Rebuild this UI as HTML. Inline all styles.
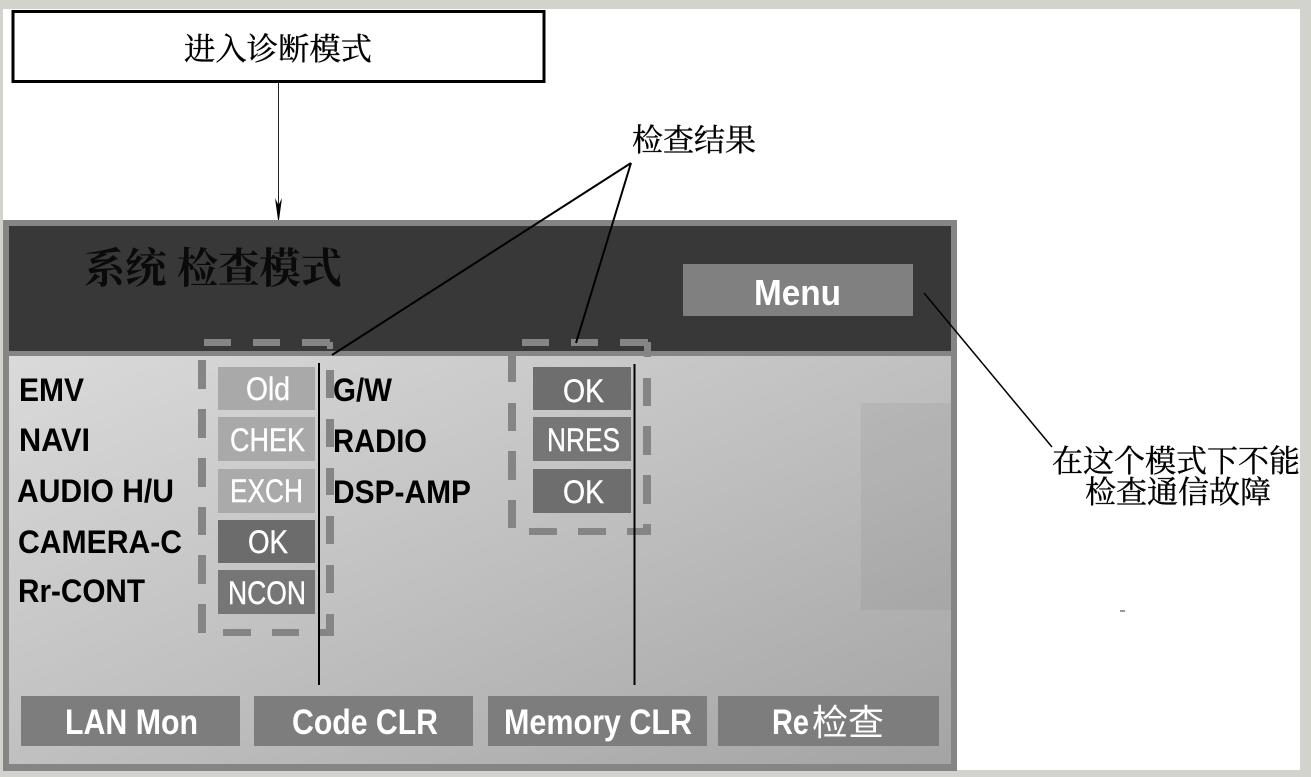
<!DOCTYPE html>
<html><head><meta charset="utf-8"><style>
html,body{margin:0;padding:0;background:#d2d3cd}
svg{display:block}
.e{font-family:"Liberation Sans",sans-serif;font-weight:bold}
.r{font-family:"Liberation Sans",sans-serif}
.c{font-family:"Liberation Serif","Noto Serif CJK SC",serif;stroke:#000;stroke-width:.35px}
</style></head><body>
<svg width="1311" height="777" viewBox="0 0 1311 777" xmlns="http://www.w3.org/2000/svg">
<defs><linearGradient id="g" x1="0" y1="0" x2="1" y2="1"><stop offset="0" stop-color="#dadada"/><stop offset=".5" stop-color="#c0c0c0"/><stop offset="1" stop-color="#a4a4a4"/></linearGradient></defs>
<rect width="1311" height="777" fill="#d2d3cd"/>
<rect x="3" y="9" width="1297" height="761" fill="#fff"/>
<rect x="3" y="220" width="954" height="551" fill="#858585"/>
<rect x="9" y="226" width="942" height="125" fill="#383838"/>
<rect x="9" y="356" width="942" height="408" fill="url(#g)"/>
<rect x="861" y="403" width="90" height="207" fill="#000" fill-opacity=".045"/>
<rect x="13" y="11.500" width="531" height="70" fill="#fff" stroke="#000" stroke-width="3"/>
<text class="c" x="184" y="60" font-size="31" textLength="188" lengthAdjust="spacingAndGlyphs">进入诊断模式</text>
<line x1="278.500" y1="83" x2="278.500" y2="205" stroke="#222" stroke-width="1"/>
<polygon points="275,198 278.500,205 282,198 279,220 278,220" fill="#000"/>
<text class="c" x="84" y="283" font-size="42" font-weight="bold" fill="#0a0a0a" textLength="258" lengthAdjust="spacingAndGlyphs" style="stroke:none">系统 检查模式</text>
<rect x="683" y="264" width="230" height="52" fill="#808080"/>
<text class="e" x="754" y="305" font-size="36" fill="#fff" textLength="87" lengthAdjust="spacingAndGlyphs">Menu</text>
<g fill="#858585">
<rect x="204" y="339" width="27" height="7"/><rect x="253" y="339" width="27" height="7"/><rect x="302" y="339" width="28" height="7"/><rect x="327" y="342" width="6" height="7"/>
<rect x="198" y="360" width="8" height="29"/><rect x="198" y="409" width="8" height="29"/><rect x="198" y="458" width="8" height="29"/><rect x="198" y="507" width="8" height="28"/><rect x="198" y="555" width="8" height="29"/><rect x="198" y="604" width="8" height="29"/>
<rect x="326" y="370" width="8" height="28"/><rect x="326" y="419" width="8" height="28"/><rect x="326" y="468" width="8" height="27"/><rect x="326" y="516" width="8" height="28"/><rect x="326" y="565" width="8" height="28"/><rect x="326" y="614" width="8" height="22"/>
<rect x="223" y="629" width="28" height="7"/><rect x="272" y="629" width="27" height="7"/><rect x="320" y="629" width="14" height="7"/>
<rect x="522" y="339" width="27" height="7"/><rect x="571" y="339" width="27" height="7"/><rect x="620" y="339" width="28" height="7"/><rect x="644" y="342" width="7" height="15"/>
<rect x="508" y="356" width="8" height="26"/><rect x="508" y="403" width="8" height="28"/><rect x="508" y="451" width="8" height="29"/><rect x="508" y="500" width="8" height="28"/>
<rect x="643" y="378" width="8" height="28"/><rect x="643" y="426" width="8" height="29"/><rect x="643" y="475" width="8" height="29"/><rect x="643" y="524" width="8" height="11"/>
<rect x="529" y="528" width="28" height="7"/><rect x="578" y="528" width="28" height="7"/><rect x="627" y="528" width="24" height="7"/>
</g>
<rect x="218" y="367" width="97" height="43" fill="#a9a9a9"/>
<rect x="218" y="417" width="97" height="44" fill="#a9a9a9"/>
<rect x="218" y="469" width="97" height="44" fill="#aaaaaa"/>
<rect x="218" y="520" width="97" height="43" fill="#6c6c6c"/>
<rect x="218" y="570" width="97" height="44" fill="#767676"/>
<rect x="533" y="367" width="98" height="43" fill="#6e6e6e"/>
<rect x="533" y="417" width="98" height="44" fill="#767676"/>
<rect x="533" y="469" width="98" height="44" fill="#6e6e6e"/>
<g class="r" font-size="32" fill="#fff" stroke="#fff" stroke-width=".4">
<text x="246" y="400" textLength="44" lengthAdjust="spacingAndGlyphs">Old</text>
<text x="230" y="451" textLength="75" lengthAdjust="spacingAndGlyphs">CHEK</text>
<text x="230" y="502" textLength="73" lengthAdjust="spacingAndGlyphs">EXCH</text>
<text x="248" y="553" textLength="40" lengthAdjust="spacingAndGlyphs">OK</text>
<text x="228" y="604" textLength="78" lengthAdjust="spacingAndGlyphs">NCON</text>
<text x="563" y="402" textLength="41" lengthAdjust="spacingAndGlyphs">OK</text>
<text x="547" y="451" textLength="73" lengthAdjust="spacingAndGlyphs">NRES</text>
<text x="563" y="503" textLength="41" lengthAdjust="spacingAndGlyphs">OK</text>
</g>
<g class="e" font-size="32" fill="#000">
<text x="19" y="401" textLength="65" lengthAdjust="spacingAndGlyphs">EMV</text>
<text x="19" y="451" textLength="71" lengthAdjust="spacingAndGlyphs">NAVI</text>
<text x="17" y="502" textLength="157" lengthAdjust="spacingAndGlyphs">AUDIO H/U</text>
<text x="18" y="553" textLength="164" lengthAdjust="spacingAndGlyphs">CAMERA-C</text>
<text x="18" y="602" textLength="127" lengthAdjust="spacingAndGlyphs">Rr-CONT</text>
<text x="333" y="401" textLength="59" lengthAdjust="spacingAndGlyphs">G/W</text>
<text x="333" y="452" textLength="94" lengthAdjust="spacingAndGlyphs">RADIO</text>
<text x="333" y="503" textLength="138" lengthAdjust="spacingAndGlyphs">DSP-AMP</text>
</g>
<line x1="319" y1="363" x2="319" y2="685" stroke="#000" stroke-width="2"/>
<line x1="634.500" y1="364" x2="634.500" y2="685" stroke="#000" stroke-width="2"/>
<g fill="#7d7d7d">
<rect x="21" y="696" width="219" height="50"/><rect x="254" y="696" width="219" height="50"/><rect x="488" y="696" width="219" height="50"/><rect x="718" y="696" width="221" height="50"/>
</g>
<g class="e" font-size="35" fill="#fff">
<text x="65" y="734" textLength="133" lengthAdjust="spacingAndGlyphs">LAN Mon</text>
<text x="292" y="734" textLength="146" lengthAdjust="spacingAndGlyphs">Code CLR</text>
<text x="504" y="734" textLength="188" lengthAdjust="spacingAndGlyphs">Memory CLR</text>
<text x="772" y="734" textLength="37" lengthAdjust="spacingAndGlyphs">Re</text>
</g>
<text x="812" y="735" font-size="36" fill="#fff" font-family="'Noto Sans CJK SC',sans-serif" textLength="72" lengthAdjust="spacingAndGlyphs">检查</text>
<text class="c" x="632" y="151" font-size="31" textLength="124" lengthAdjust="spacingAndGlyphs">检查结果</text>
<line x1="631" y1="163" x2="332" y2="355" stroke="#000" stroke-width="2"/>
<line x1="631" y1="163" x2="576" y2="343" stroke="#000" stroke-width="2"/>
<line x1="924" y1="293" x2="1052" y2="447" stroke="#000" stroke-width="1.500"/>
<text class="c" x="1052" y="472" font-size="31" textLength="248" lengthAdjust="spacingAndGlyphs">在这个模式下不能</text>
<text class="c" x="1085" y="503" font-size="31" textLength="186" lengthAdjust="spacingAndGlyphs">检查通信故障</text>
<rect x="1120" y="610" width="5" height="2" fill="#999"/>
</svg>
</body></html>
